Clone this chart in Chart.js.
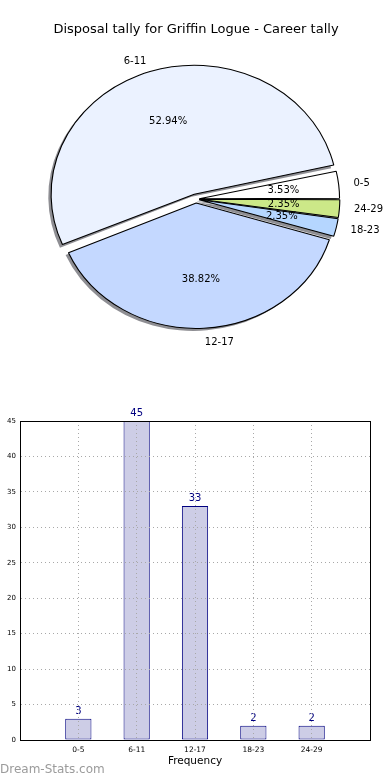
<!DOCTYPE html>
<html>
<head>
<meta charset="utf-8">
<script src="https://cdn.jsdelivr.net/npm/chart.js@4"></script>
<style>
  body { margin: 0; width: 390px; height: 780px; background: #fff; position: relative; overflow: hidden; font-family: "DejaVu Sans", sans-serif; }
  #pieBox { position: absolute; left: 0; top: 0; width: 390px; height: 390px; }
  #barBox { position: absolute; left: 0; top: 390px; width: 390px; height: 390px; }
  #mark { position: absolute; left: 0; top: 762px; font-size: 12px; color: #9b9b9b; white-space: nowrap; }
</style>
</head>
<body>
<div id="pieBox"><canvas id="pieChart"></canvas></div>
<div id="barBox"><canvas id="barChart"></canvas></div>
<div id="mark">Dream-Stats.com</div>
<script>
const categories = ["0-5", "6-11", "12-17", "18-23", "24-29"];
const frequency = [3, 45, 33, 2, 2];
const yMax = 45;
const yStep = 5;

const sliceColors = ["#ffffff", "#ebf2ff", "#c4d8ff", "#b5d6ff", "#cce888"];
const sliceOffsets = [12, 20, 16, 12, 12];

Chart.defaults.font.family = "'DejaVu Sans', sans-serif";
Chart.defaults.color = "#000";

const total = frequency.reduce((a, b) => a + b, 0);

// matplotlib goes counter-clockwise from 3 o'clock, chart.js clockwise -> reverse
const pieLabels = categories.slice().reverse();
const pieValues = frequency.slice().reverse();

const SX = 1.11; // the original pie is a bit wider than tall

function arcGeom(arc) {
  const off = (arc.options.offset || 0) / 4;
  const mid = (arc.startAngle + arc.endAngle) / 2;
  const circ = arc.endAngle - arc.startAngle;
  const fix = 1 - Math.sin(Math.min(Math.PI, circ));
  return {
    x: arc.x + Math.cos(mid) * off,
    y: arc.y + Math.sin(mid) * off,
    r: arc.outerRadius + off * fix,
    mid: mid,
  };
}

const pieShape = {
  id: "pieShape",
  beforeDatasetsDraw(chart) {
    const { ctx } = chart;
    const arcs = chart.getDatasetMeta(0).data;
    const cx = arcs[0].x;
    const cy = arcs[0].y;
    ctx.save();
    ctx.translate(cx, cy);
    ctx.scale(SX, 1);
    ctx.translate(-cx, -cy);

    // drop shadow, down and to the left
    ctx.fillStyle = "rgba(30,30,40,0.5)";
    arcs.forEach((arc) => {
      const g = arcGeom(arc);
      const sx = g.x - 2.8 / SX;
      const sy = g.y + 2.5;
      ctx.beginPath();
      ctx.moveTo(sx, sy);
      ctx.arc(sx, sy, g.r, arc.startAngle, arc.endAngle);
      ctx.closePath();
      ctx.fill();
    });
  },
  afterDatasetsDraw(chart) {
    const { ctx } = chart;
    ctx.restore();

    const arcs = chart.getDatasetMeta(0).data;
    const cx = arcs[0].x;
    ctx.save();
    ctx.font = "10px 'DejaVu Sans'";
    ctx.fillStyle = "#000";
    ctx.textBaseline = "middle";
    arcs.forEach((arc, i) => {
      const g = arcGeom(arc);
      const R = arc.outerRadius + 3; // nominal radius, chart.js grows exploded arcs a bit
      const dx = Math.cos(g.mid);
      const dy = Math.sin(g.mid);

      const lx = cx + (g.x + dx * R * 1.1 - cx) * SX;
      const ly = g.y + dy * R * 1.1;
      ctx.textAlign = dx > 0 ? "left" : "right";
      ctx.fillText(pieLabels[i], lx, ly);

      const px = cx + (g.x + dx * R * 0.6 - cx) * SX;
      const py = g.y + dy * R * 0.6;
      ctx.textAlign = "center";
      ctx.fillText(((pieValues[i] / total) * 100).toFixed(2) + "%", px, py);
    });
    ctx.restore();
  },
};

const pieCtx = document.getElementById("pieChart").getContext("2d");
const pieChart = new Chart(pieCtx, {
  type: "pie",
  data: {
    labels: pieLabels,
    datasets: [
      {
        data: pieValues,
        backgroundColor: sliceColors.slice().reverse(),
        borderColor: "#000",
        borderWidth: 1,
        offset: sliceOffsets.slice().reverse(),
        radius: 124,
        rotation: 90,
      },
    ],
  },
  options: {
    responsive: true,
    maintainAspectRatio: false,
    animation: false,
    events: [],
    layout: { padding: { top: 0, bottom: 29.6, left: 2, right: 0 } },
    plugins: {
      legend: { display: false },
      tooltip: { enabled: false },
      title: {
        display: true,
        text: "Disposal tally for Griffin Logue - Career tally",
        font: { size: 13, weight: "normal", lineHeight: 1.2 },
        color: "#000",
        padding: { top: 22, bottom: 0 },
      },
    },
  },
  plugins: [pieShape],
});

const barValueLabels = {
  id: "barValueLabels",
  afterDatasetsDraw(chart) {
    const { ctx } = chart;
    const meta = chart.getDatasetMeta(0);
    const values = chart.data.datasets[0].data;
    ctx.save();
    ctx.font = "10px 'DejaVu Sans'";
    ctx.fillStyle = "#000080";
    ctx.textAlign = "center";
    ctx.textBaseline = "alphabetic";
    meta.data.forEach((bar, i) => {
      if (values[i] == null) return;
      ctx.fillText(values[i], bar.x, bar.y - 5);
    });
    ctx.restore();
  },
};

const frameBox = {
  id: "frameBox",
  afterDraw(chart) {
    const { ctx, chartArea: { top, bottom, left, right } } = chart;
    ctx.save();
    ctx.strokeStyle = "#000";
    ctx.lineWidth = 1;
    ctx.strokeRect(Math.round(left) + 0.5, Math.round(top) + 0.5, Math.round(right - left), Math.round(bottom - top));
    ctx.restore();
  },
};

// grid drawn over the bars like matplotlib; border needs the same layer so it is placed right
const gridStyle = { color: "#a8a8a8", drawTicks: false, z: 1 };
const borderStyle = { color: "#000", dash: [1, 3], z: 1 };

const barCtx = document.getElementById("barChart").getContext("2d");
const barChart = new Chart(barCtx, {
  type: "bar",
  data: {
    labels: ["", ...categories, ""],
    datasets: [
      {
        data: [null, ...frequency, null],
        backgroundColor: "#cdcde6",
        borderColor: "#000080",
        borderWidth: 1,
        borderSkipped: false,
        barPercentage: 0.45,
        categoryPercentage: 1,
      },
    ],
  },
  options: {
    responsive: true,
    maintainAspectRatio: false,
    animation: false,
    events: [],
    layout: { padding: { top: 31, right: 20, left: 0, bottom: 0 } },
    plugins: {
      legend: { display: false },
      tooltip: { enabled: false },
    },
    scales: {
      x: {
        offset: false,
        grid: { ...gridStyle, offset: false },
        border: borderStyle,
        ticks: { font: { size: 7.5 }, padding: 6, autoSkip: false, maxRotation: 0 },
        title: {
          display: true,
          text: "Frequency",
          font: { size: 10.5 },
          padding: { top: 0, bottom: 12 },
        },
        afterFit(scale) {
          scale.height = 40;
        },
      },
      y: {
        min: 0,
        max: yMax,
        grid: gridStyle,
        border: borderStyle,
        ticks: { stepSize: yStep, font: { size: 7 }, padding: 4 },
        afterFit(scale) {
          scale.width = 20;
        },
      },
    },
  },
  plugins: [barValueLabels, frameBox],
});
</script>
</body>
</html>
